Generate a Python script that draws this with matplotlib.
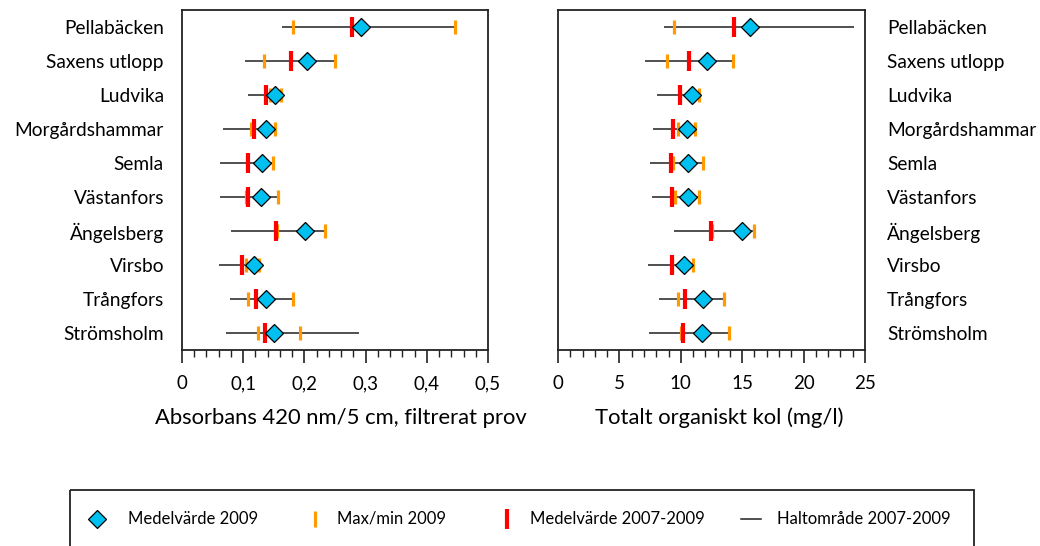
import matplotlib
matplotlib.use("Agg")
import matplotlib.pyplot as plt
from matplotlib.ticker import MultipleLocator, FuncFormatter
from matplotlib.patches import Rectangle
import numpy as np

plt.rcParams['font.family'] = ['Lato', 'DejaVu Sans']

stations = ["Pellabäcken", "Saxens utlopp", "Ludvika", "Morgårdshammar", "Semla",
            "Västanfors", "Ängelsberg", "Virsbo", "Trångfors", "Strömsholm"]

# Absorbans 420 nm/5 cm, filtrerat prov
abs_mean_2009 = [0.292, 0.205, 0.152, 0.138, 0.130, 0.129, 0.201, 0.117, 0.138, 0.151]
abs_min_2009 = [0.181, 0.134, 0.143, 0.113, 0.106, 0.104, 0.156, 0.105, 0.108, 0.124]
abs_max_2009 = [0.446, 0.250, 0.162, 0.152, 0.148, 0.157, 0.234, 0.126, 0.182, 0.193]
abs_mean_0709 = [0.277, 0.178, 0.138, 0.117, 0.108, 0.108, 0.153, 0.098, 0.121, 0.136]
abs_range_lo = [0.164, 0.103, 0.108, 0.067, 0.062, 0.062, 0.080, 0.061, 0.079, 0.072]
abs_range_hi = [0.446, 0.250, 0.166, 0.152, 0.148, 0.157, 0.234, 0.131, 0.182, 0.290]

# Totalt organiskt kol (mg/l)
toc_mean_2009 = [15.6, 12.1, 10.9, 10.5, 10.6, 10.6, 15.0, 10.3, 11.8, 11.7]
toc_min_2009 = [9.45, 8.9, 9.95, 9.75, 9.35, 9.5, 12.5, 9.3, 9.77, 10.0]
toc_max_2009 = [np.nan, 14.25, 11.48, 11.16, 11.78, 11.51, 15.94, 11.02, 13.49, 13.93]
toc_mean_0709 = [14.36, 10.69, 9.91, 9.39, 9.17, 9.26, 12.49, 9.28, 10.32, 10.15]
toc_range_lo = [8.66, 7.06, 8.06, 7.76, 7.46, 7.65, 9.45, 7.33, 8.25, 7.44]
toc_range_hi = [24.1, 14.25, 11.6, 11.16, 11.78, 11.51, 15.94, 11.02, 13.49, 13.93]

abs_ticks = [0, 0.1, 0.2, 0.3, 0.4, 0.5]
toc_ticks = [0, 5, 10, 15, 20, 25]

C_DIAMOND = "#00C0F0"
C_ORANGE = "#FF9A00"
C_RED = "#FF0000"
C_LINE = "#202020"

fig = plt.figure(figsize=(10.4, 5.46), dpi=100)
W, H = 1040, 546


def panel_axes(x0, x1, y0, y1):
    return fig.add_axes([x0 / W, 1 - y1 / H, (x1 - x0) / W, (y1 - y0) / H])


ax1 = panel_axes(182, 488, 10, 350)
ax2 = panel_axes(558, 865, 10, 350)

ypos = np.arange(len(stations)) + 0.5


def draw_panel(ax, mean09, mn, mx, mean0709, lo, hi, ticks, minor, label, fmt, side):
    for i, y in enumerate(ypos):
        ax.plot([lo[i], hi[i]], [y, y], color=C_LINE, lw=1.1, solid_capstyle='butt', zorder=2)
    ax.plot(mn, ypos, linestyle='none', marker='|', ms=10, mew=2.3, color=C_ORANGE, zorder=3)
    ax.plot(mx, ypos, linestyle='none', marker='|', ms=10, mew=2.3, color=C_ORANGE, zorder=3)
    ax.plot(mean0709, ypos, linestyle='none', marker='|', ms=14.5, mew=3.0, color=C_RED, zorder=4)
    ax.plot(mean09, ypos, linestyle='none', marker='D', ms=9, mfc=C_DIAMOND, mec='black',
            mew=0.9, zorder=5)
    ax.set_ylim(len(stations), 0)
    ax.set_xlim(ticks[0], ticks[-1])
    ax.set_xticks(ticks)
    ax.xaxis.set_minor_locator(MultipleLocator(minor))
    ax.xaxis.set_major_formatter(FuncFormatter(fmt))
    ax.tick_params(axis='x', which='major', direction='out', length=9, width=1.2,
                   labelsize=13.5, pad=9, color='#222222')
    ax.tick_params(axis='x', which='minor', direction='out', length=5, width=1.0,
                   color='#222222')
    ax.set_yticks(ypos)
    ax.set_yticklabels(stations, fontsize=13.8)
    ax.tick_params(axis='y', length=0, pad=13)
    if side == 'right':
        ax.yaxis.tick_right()
        ax.tick_params(axis='y', length=0, pad=16)
    for s in ax.spines.values():
        s.set_linewidth(1.3)
        s.set_color('#222222')
    ax.set_xlabel(label, fontsize=15.8)


def fmt_abs(v, pos):
    if abs(v) < 1e-9:
        return "0"
    return f"{v:.1f}".replace(".", ",")


def fmt_toc(v, pos):
    return f"{v:.0f}"


draw_panel(ax1, abs_mean_2009, abs_min_2009, abs_max_2009, abs_mean_0709,
           abs_range_lo, abs_range_hi, abs_ticks, 0.02,
           "Absorbans 420 nm/5 cm, filtrerat prov", fmt_abs, 'left')
draw_panel(ax2, toc_mean_2009, toc_min_2009, toc_max_2009, toc_mean_0709,
           toc_range_lo, toc_range_hi, toc_ticks, 1,
           "Totalt organiskt kol (mg/l)", fmt_toc, 'right')
ax1.xaxis.set_label_coords(0.52, -0.2)
ax2.xaxis.set_label_coords(0.524, -0.2)
ax1.xaxis.label.set_va('center')
ax2.xaxis.label.set_va('center')

# Legend band along the bottom edge
lax = fig.add_axes([0, 0, 1, 1], facecolor='none')
lax.set_xlim(0, W)
lax.set_ylim(H, 0)
lax.axis('off')
lax.add_patch(Rectangle((70, 490), 904, 80, fill=False, ec='#222222', lw=1.3, clip_on=False))
ly = 519
lax.plot([97], [ly], marker='D', ms=9, mfc=C_DIAMOND, mec='black', mew=0.9, linestyle='none')
lax.text(128, ly, "Medelvärde 2009", fontsize=12, va='center', ha='left')
lax.plot([315], [ly], marker='|', ms=11, mew=2.3, color=C_ORANGE, linestyle='none')
lax.text(337, ly, "Max/min 2009", fontsize=12, va='center', ha='left')
lax.plot([507], [ly], marker='|', ms=14.5, mew=3.0, color=C_RED, linestyle='none')
lax.text(530, ly, "Medelvärde 2007-2009", fontsize=12, va='center', ha='left')
lax.plot([741, 761], [ly, ly], color=C_LINE, lw=1.1)
lax.text(777, ly, "Haltområde 2007-2009", fontsize=12, va='center', ha='left')

fig.savefig("out.png", dpi=100)
